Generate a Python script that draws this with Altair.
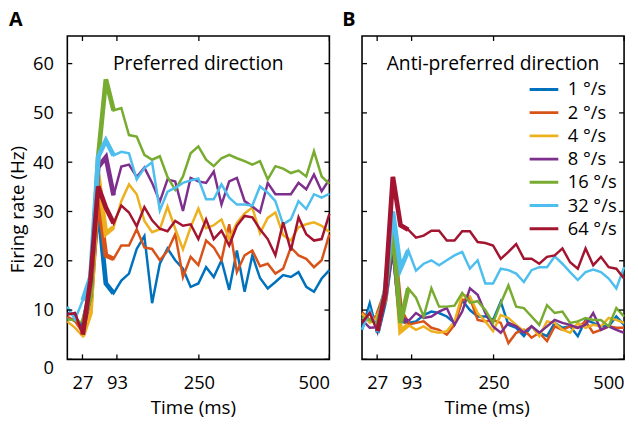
import altair as alt
import pandas as pd

# ---- data -------------------------------------------------------------
times = [-2.0, 12.8, 27.5, 42.3, 57.1, 71.8, 86.6, 101.4, 116.1, 130.9, 145.6,
         160.4, 175.2, 189.9, 204.7, 219.5, 234.2, 249.0, 263.8, 278.5, 293.3,
         308.1, 322.8, 337.6, 352.4, 367.1, 381.9, 396.6, 411.4, 426.2, 440.9,
         455.7, 470.5, 485.2, 500.0]

speeds = ["1 °/s", "2 °/s", "4 °/s", "8 °/s", "16 °/s", "32 °/s", "64 °/s"]
colors = ["#0072BD", "#D95319", "#EDB120", "#7E2F8E", "#77AC30", "#4DBEEE", "#A2142F"]

x_ticks = [27, 93, 250, 500]
y_ticks = [0, 10, 20, 30, 40, 50, 60]

# Preferred direction (panel A)
pref_1 = [8.4, 8.0, 7.0, 14.0, 31.0, 15.4, 13.4, 16.0, 17.4, 22.4, 25.0, 11.4, 19.4, 22.5, 20.1, 18.4, 14.7, 15.4,
          18.7, 16.7, 20.1, 14.1, 22.1, 13.7, 21.1, 16.5, 14.4, 15.7, 17.1, 16.7, 17.7, 14.7, 13.7, 16.4, 18.1]
pref_2 = [8.7, 7.7, 5.4, 10.7, 33.0, 21.1, 20.4, 23.1, 23.1, 26.4, 22.7, 22.4, 20.1, 22.0, 25.4, 16.7, 20.8, 19.1,
          24.1, 22.7, 20.1, 27.4, 17.7, 21.1, 22.1, 18.9, 19.4, 17.4, 18.4, 22.7, 21.1, 20.4, 18.7, 20.1, 25.4]
pref_4 = [7.7, 6.4, 4.7, 9.4, 37.5, 25.5, 26.8, 32.1, 35.5, 33.5, 28.1, 25.8, 26.4, 31.0, 26.5, 22.3, 26.8, 30.6,
          26.6, 27.2, 28.4, 24.4, 27.7, 29.6, 30.8, 25.6, 28.7, 29.8, 25.2, 24.1, 26.8, 27.4, 27.8, 27.1, 25.8]
pref_8 = [9.4, 9.0, 6.0, 13.4, 39.0, 41.0, 33.3, 39.1, 39.5, 37.0, 38.9, 35.8, 32.0, 36.5, 36.1, 30.1, 36.8, 36.1,
          35.8, 38.1, 31.4, 36.1, 36.8, 32.1, 31.0, 29.8, 35.8, 33.5, 33.5, 33.5, 35.8, 34.5, 37.5, 34.1, 36.5]
pref_16 = [8.1, 8.0, 7.4, 12.7, 41.0, 56.8, 50.5, 51.0, 45.5, 45.2, 41.5, 40.5, 41.2, 37.0, 34.4, 37.1, 41.8, 43.2,
           40.5, 39.2, 40.8, 41.5, 40.8, 40.2, 39.5, 40.2, 36.5, 39.2, 38.7, 37.8, 38.3, 37.1, 42.2, 37.1, 35.6]
pref_32 = [10.7, 8.1, 12.0, 16.7, 41.1, 44.4, 41.4, 42.1, 41.8, 36.5, 38.8, 40.0, 30.2, 34.0, 34.8, 35.8, 36.3, 36.7,
           32.5, 32.5, 35.5, 32.8, 31.4, 31.4, 31.2, 35.1, 33.8, 32.1, 27.4, 28.4, 32.1, 30.5, 33.5, 32.8, 33.6]
pref_64 = [9.1, 9.4, 5.0, 16.0, 35.1, 30.8, 27.6, 31.2, 29.8, 27.0, 30.9, 28.2, 26.5, 26.0, 28.1, 27.1, 27.4, 24.4,
           28.4, 24.4, 26.1, 23.1, 27.1, 29.1, 28.8, 26.4, 24.4, 21.1, 27.8, 22.1, 28.8, 25.4, 24.1, 24.4, 29.5]

# Anti-preferred direction (panel B)
anti_1 = [6.0, 11.4, 5.4, 12.0, 24.0, 8.0, 7.4, 7.7, 9.0, 9.7, 9.4, 8.7, 7.4, 12.0, 10.0, 8.7, 8.7, 8.0,
          11.7, 7.0, 6.4, 4.7, 6.7, 5.4, 4.7, 7.4, 6.4, 6.7, 4.7, 8.0, 7.4, 6.7, 6.7, 8.7, 7.0]
anti_2 = [9.6, 8.0, 9.0, 13.4, 26.0, 10.0, 7.0, 7.4, 7.7, 6.4, 6.0, 5.0, 7.0, 12.0, 12.5, 8.0, 7.7, 8.0,
          7.4, 3.3, 5.4, 6.0, 4.4, 5.4, 3.7, 6.7, 6.0, 6.7, 6.4, 7.7, 5.4, 6.0, 6.7, 6.4, 6.4]
anti_4 = [9.3, 7.4, 8.5, 12.0, 27.0, 5.7, 7.0, 6.0, 6.7, 5.7, 5.4, 5.7, 7.7, 13.1, 12.8, 9.4, 7.7, 5.7,
          9.0, 8.4, 7.0, 5.7, 6.7, 4.7, 7.7, 7.4, 6.0, 5.4, 7.4, 6.4, 7.0, 6.7, 8.4, 8.0, 7.4]
anti_8 = [8.0, 6.4, 6.5, 12.7, 24.0, 8.3, 7.7, 9.4, 8.4, 8.7, 9.7, 10.4, 7.0, 9.7, 14.4, 13.1, 9.4, 6.7,
          5.4, 7.4, 6.7, 5.4, 6.7, 5.4, 6.7, 8.0, 7.4, 7.0, 6.4, 7.0, 9.4, 6.0, 6.7, 6.0, 5.4]
anti_16 = [8.5, 8.0, 7.0, 14.0, 26.0, 7.4, 14.4, 12.5, 8.7, 14.4, 10.7, 10.7, 10.9, 13.5, 11.5, 11.8, 10.0, 7.4,
           11.4, 15.0, 10.7, 10.4, 8.7, 7.0, 11.0, 9.4, 9.7, 7.4, 7.7, 8.4, 8.0, 8.0, 6.7, 10.4, 8.7]
anti_32 = [6.0, 10.0, 5.5, 14.0, 30.0, 18.4, 22.1, 18.0, 19.4, 20.1, 19.1, 20.1, 21.1, 21.8, 18.4, 20.1, 15.4, 15.4,
           18.4, 18.1, 17.4, 15.7, 18.1, 18.7, 18.7, 20.9, 19.4, 17.7, 16.1, 17.7, 18.2, 17.7, 16.4, 14.4, 18.7]
anti_64 = [7.4, 9.4, 5.7, 13.4, 37.0, 27.2, 26.3, 24.7, 25.1, 26.1, 26.1, 24.1, 24.1, 26.0, 26.0, 23.8, 23.6, 23.1,
           20.4, 21.8, 23.4, 20.4, 20.4, 19.4, 20.8, 21.1, 22.5, 19.7, 18.4, 22.5, 19.1, 20.8, 18.7, 18.4, 16.4]

pref = [pref_1, pref_2, pref_4, pref_8, pref_16, pref_32, pref_64]
anti = [anti_1, anti_2, anti_4, anti_8, anti_16, anti_32, anti_64]


def long_frame(series_list):
    rows = []
    for k, (name, vals) in enumerate(zip(speeds, series_list)):
        for t, v in zip(times, vals):
            rows.append({"time": t, "rate": v, "speed": name, "k": k})
    return pd.DataFrame(rows)


W, H = 265, 327
TEXT_SIZE = 19.5
TITLE_SIZE = 19
LABEL_SIZE = 18.5

x_scale = alt.Scale(domain=[-2, 500], nice=False, zero=False)
y_scale = alt.Scale(domain=[0, 65.6], nice=False, zero=False)
c_scale = alt.Scale(domain=speeds, range=colors)


def panel(series_list, annotation, letter, show_y, legend, title_x):
    df = long_frame(series_list)
    x_axis = alt.Axis(values=x_ticks, ticks=False, domain=False, grid=False,
                      labelFlush=True, labelPadding=14.4, title="Time (ms)",
                      titleX=title_x, titlePadding=7)
    if show_y:
        y_axis = alt.Axis(values=y_ticks, ticks=False, domain=False, grid=False,
                          labelPadding=14, title="Firing rate (Hz)", titleY=175,
                          titlePadding=4.8,
                          labelOffset={"condition": {"test": "datum.value === 0", "value": 8},
                                       "value": 0})
    else:
        y_axis = None
    X = alt.X("time:Q", scale=x_scale, axis=x_axis)
    Y = alt.Y("rate:Q", scale=y_scale, axis=y_axis)
    C = alt.Color("speed:N", scale=c_scale, legend=legend, sort=speeds)

    base = alt.Chart(df)
    thin = base.mark_line(strokeWidth=2.5).encode(x=X, y=Y, color=C,
                                                   order=alt.Order("time:Q"))
    thick = base.transform_filter("datum.time >= 27 && datum.time <= 87").mark_line(
        strokeWidth=4.8).encode(x=X, y=Y, color=C, order=alt.Order("time:Q"))

    ydf = pd.DataFrame({"rate": y_ticks})
    xdf = pd.DataFrame({"time": x_ticks})
    Yt = alt.Y("rate:Q", scale=y_scale)
    Xt = alt.X("time:Q", scale=x_scale)
    tick_style = dict(color="black", strokeWidth=1.3)
    lt = alt.Chart(ydf).mark_rule(**tick_style).encode(y=Yt, x=alt.value(0), x2=alt.value(5))
    rt = alt.Chart(ydf).mark_rule(**tick_style).encode(y=Yt, x=alt.value(W - 5), x2=alt.value(W))
    bt = alt.Chart(xdf).mark_rule(**tick_style).encode(x=Xt, y=alt.value(H - 5), y2=alt.value(H))
    tt = alt.Chart(xdf).mark_rule(**tick_style).encode(x=Xt, y=alt.value(0), y2=alt.value(5))

    ann = alt.Chart(pd.DataFrame({"label": [annotation]})).mark_text(
        fontSize=TEXT_SIZE, align="center", baseline="middle", color="black").encode(
        text="label:N", x=alt.value(W / 2), y=alt.value(28))
    let = alt.Chart(pd.DataFrame({"label": [letter]})).mark_text(
        fontSize=20, fontWeight="bold", align="left", baseline="alphabetic", color="black").encode(
        text="label:N", x=alt.value(-59 if show_y else -20), y=alt.value(-10))

    return alt.layer(thin, thick, lt, rt, bt, tt, ann, let).properties(width=W, height=H)


legend_b = alt.Legend(orient="none", legendX=168, legendY=46, title=None,
                      symbolType="stroke", symbolSize=841, symbolStrokeWidth=3,
                      labelFontSize=LABEL_SIZE, labelOffset=8, clipHeight=16,
                      rowPadding=4.5, labelColor="black", padding=0,
                      labelExpr="length(datum.label) < 6 ? '\u2007' + datum.label : datum.label")

chart_a = panel(pref, "Preferred direction", "A", True, None, 127)
chart_b = panel(anti, "Anti-preferred direction", "B", False, legend_b, 126)

chart = alt.hconcat(chart_a, chart_b, spacing=33, bounds="flush").resolve_scale(
    color="independent"
).properties(
    padding={"left": 0, "top": -1, "right": 0, "bottom": -1.5}
).configure(
    font="Open Sans"
).configure_view(
    stroke="black", strokeWidth=1.6
).configure_axis(
    labelFontSize=LABEL_SIZE, titleFontSize=TITLE_SIZE, titleFontWeight="normal",
    labelColor="black", titleColor="black"
)

chart.save("out.html", embed_options={"renderer": "svg", "actions": False})
